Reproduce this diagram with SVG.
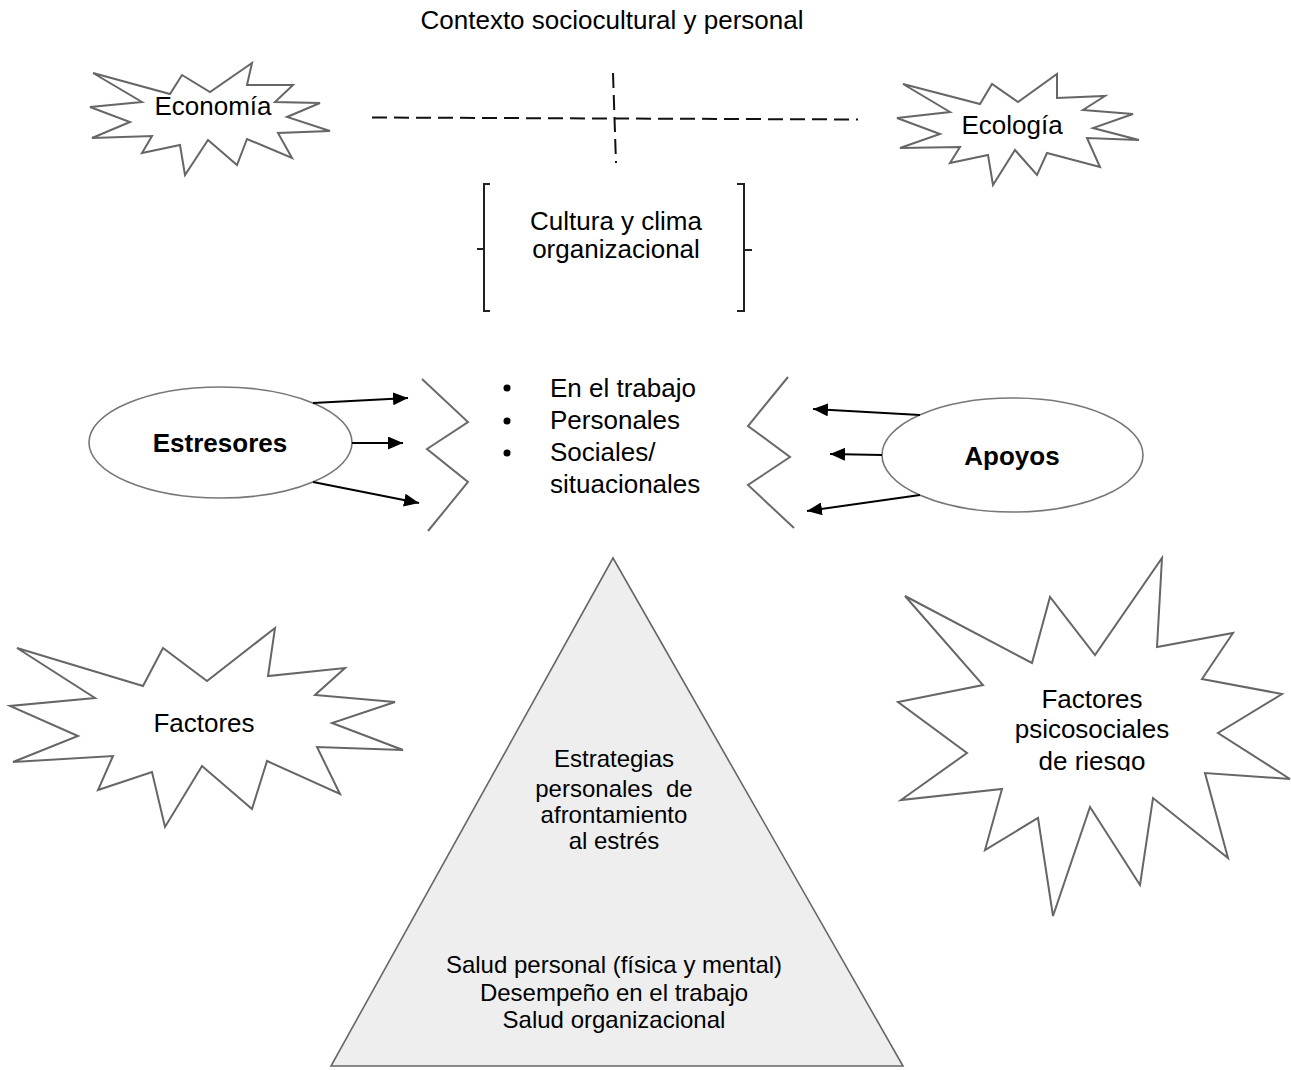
<svg xmlns="http://www.w3.org/2000/svg" width="1291" height="1070" viewBox="0 0 1291 1070">
  <style>
    text { font-family: "Liberation Sans", Arial, sans-serif; fill: #000; }
    .lbl { font-size: 26px; text-anchor: middle; }
    .bold { font-weight: bold; }
    .small { font-size: 24px; text-anchor: middle; }
    .list { font-size: 26px; }
    .burst { fill: #fff; stroke: #666; stroke-width: 2; stroke-linejoin: miter; }
    .oval { fill: #fff; stroke: #777; stroke-width: 1.6; }
    .zig { fill: none; stroke: #6a6a6a; stroke-width: 2; }
    .brace { fill: none; stroke: #222; stroke-width: 2; }
    .dash { fill: none; stroke: #111; stroke-width: 2; stroke-dasharray: 15 7; }
    .arrow { fill: none; stroke: #000; stroke-width: 2; marker-end: url(#head); }
  </style>
  <defs>
    <marker id="head" viewBox="0 0 15 13" refX="15" refY="6.5" markerWidth="15" markerHeight="13" markerUnits="userSpaceOnUse" orient="auto">
      <path d="M0,0 L15,6.5 L0,13 Z" fill="#000"/>
    </marker>
    <clipPath id="riskClip">
      <rect x="900" y="680" width="391" height="91"/>
    </clipPath>
  </defs>

  <rect width="1291" height="1070" fill="#fff"/>

  <!-- heading -->
  <g id="context-title">
    <text class="lbl" x="612" y="29">Contexto sociocultural y personal</text>
  </g>

  <!-- dashed cross between the two outer contexts -->
  <g id="context-cross">
    <line class="dash" x1="372" y1="117.5" x2="858" y2="119.5"/>
    <line class="dash" x1="613" y1="73" x2="616" y2="163"/>
  </g>

  <g id="economia">
    <polygon class="burst" points="93,73 170,94 182,75 210,92 252,63 247,85 293,85 275,102 320,103 287,117 330,131 278,133 292,158 247,139 237,165 208,140 185,175 180,145 142,153 152,136 92,138 130,122 90,107 142,102"/>
    <text class="lbl" x="213" y="115">Economía</text>
  </g>

  <g id="ecologia">
    <polygon class="burst" points="903,84 980,104 992,84 1018,102 1057,74 1057,98 1105,96 1083,110 1133,114 1093,128 1139,140 1087,138 1100,167 1047,153 1037,175 1015,150 993,185 988,155 950,163 960,147 900,148 940,134 897,118 950,112"/>
    <text class="lbl" x="1012" y="134">Ecología</text>
  </g>

  <g id="cultura">
    <path class="brace" d="M490,184 H484 V311 H490 M484,249 H477"/>
    <path class="brace" d="M737,184 H744 V311 H737 M744,250 H752"/>
    <text class="lbl" x="616" y="230">Cultura y clima</text>
    <text class="lbl" x="616" y="258">organizacional</text>
  </g>

  <!-- zig-zag frame around the stressor list -->
  <g id="stress-frame">
    <polyline class="zig" points="422,379 468,422 427,449 468,482 428,531"/>
    <polyline class="zig" points="788,377 748,426 790,457 748,485 794,528"/>
  </g>

  <g id="ambitos">
    <circle cx="507" cy="388" r="3.5"/>
    <circle cx="507" cy="421" r="3.5"/>
    <circle cx="507" cy="453" r="3.5"/>
    <text class="list" x="550" y="397">En el trabajo</text>
    <text class="list" x="550" y="429">Personales</text>
    <text class="list" x="550" y="461">Sociales/</text>
    <text class="list" x="550" y="493">situacionales</text>
  </g>

  <g id="estresores">
    <ellipse class="oval" cx="220.5" cy="442.5" rx="131.5" ry="55.5"/>
    <text class="lbl bold" x="220" y="452">Estresores</text>
  </g>

  <g id="apoyos">
    <ellipse class="oval" cx="1012.5" cy="455" rx="130.5" ry="57"/>
    <text class="lbl bold" x="1012" y="465">Apoyos</text>
  </g>

  <g id="connectors">
    <line class="arrow" x1="313" y1="403" x2="408" y2="398"/>
    <line class="arrow" x1="352" y1="443" x2="403" y2="443"/>
    <line class="arrow" x1="313" y1="482" x2="419" y2="503"/>
    <line class="arrow" x1="920" y1="415" x2="813" y2="409"/>
    <line class="arrow" x1="882" y1="455" x2="830" y2="454"/>
    <line class="arrow" x1="920" y1="495" x2="807" y2="511"/>
  </g>

  <g id="factores">
    <polygon class="burst" points="17,648 143,686 163,648 207,681 275,628 268,676 345,668 315,695 395,702 332,723 403,750 317,747 340,794 267,761 252,809 202,766 165,827 152,772 98,790 113,756 13,762 78,736 10,706 95,698"/>
    <text class="lbl" x="204" y="732">Factores</text>
  </g>

  <g id="factores-psicosociales">
    <polygon class="burst" points="905,596 1032,663 1050,597 1095,655 1162,558 1157,647 1233,633 1202,679 1282,694 1218,733 1290,779 1205,773 1228,858 1153,798 1140,885 1090,807 1053,916 1038,818 985,850 1002,789 901,800 967,753 898,702 983,685"/>
    <g clip-path="url(#riskClip)">
      <text class="lbl" x="1092" y="708">Factores</text>
      <text class="lbl" x="1092" y="738">psicosociales</text>
      <text class="lbl" x="1092" y="770">de riesgo</text>
    </g>
  </g>

  <g id="piramide">
    <polygon points="613,558 331,1066 903,1066" fill="#eeeeee" stroke="#666" stroke-width="1.6"/>
    <text class="small" x="614" y="767">Estrategias</text>
    <text class="small" x="614" y="797" xml:space="preserve">personales  de</text>
    <text class="small" x="614" y="823">afrontamiento</text>
    <text class="small" x="614" y="849">al estrés</text>
    <text class="small" x="614" y="973">Salud personal (física y mental)</text>
    <text class="small" x="614" y="1001">Desempeño en el trabajo</text>
    <text class="small" x="614" y="1028">Salud organizacional</text>
  </g>
</svg>
